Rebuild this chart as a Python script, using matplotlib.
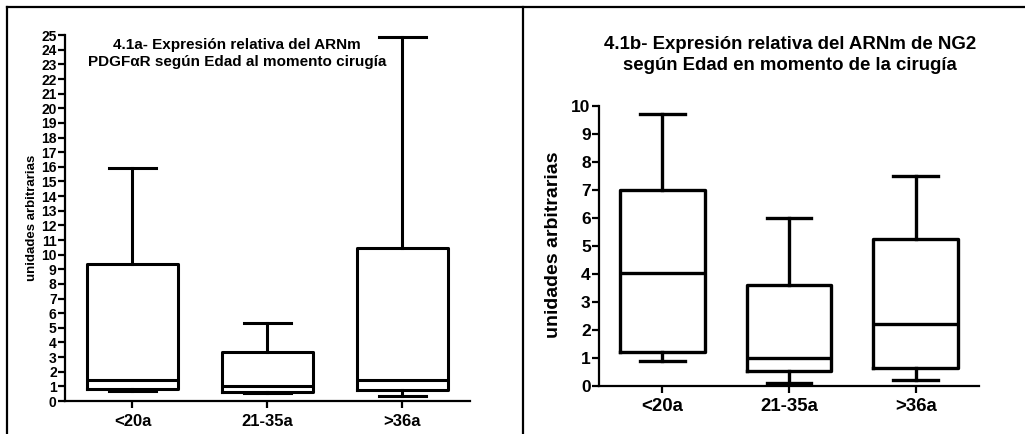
import matplotlib
matplotlib.use("Agg")
import matplotlib.pyplot as plt
from matplotlib.lines import Line2D

plt.rcParams['font.family'] = ['Liberation Sans', 'DejaVu Sans']
plt.rcParams['font.weight'] = 'bold'

# Categories (age groups)
groups = ["<20a", "21-35a", ">36a"]

# 4.1a - PDGFaR: whisker low, Q1, median, Q3, whisker high
pdgf_low = [0.7, 0.55, 0.35]
pdgf_q1 = [0.85, 0.6, 0.75]
pdgf_med = [1.45, 1.0, 1.45]
pdgf_q3 = [9.35, 3.35, 10.45]
pdgf_high = [15.9, 5.3, 24.9]

# 4.1b - NG2
ng2_low = [0.9, 0.1, 0.2]
ng2_q1 = [1.2, 0.55, 0.65]
ng2_med = [4.05, 1.0, 2.2]
ng2_q3 = [7.0, 3.6, 5.25]
ng2_high = [9.7, 6.0, 7.5]


def make_stats(low, q1, med, q3, high):
    stats = []
    for i in range(len(groups)):
        stats.append({"whislo": low[i], "q1": q1[i], "med": med[i],
                      "q3": q3[i], "whishi": high[i], "fliers": [],
                      "label": groups[i]})
    return stats


def draw_box(ax, stats, lw, ytick_fs, xtick_fs):
    props = dict(color="black", linewidth=lw)
    ax.bxp(stats, positions=[1, 2, 3], widths=0.67, capwidths=0.35,
           showfliers=False, boxprops=props, medianprops=props,
           whiskerprops=props, capprops=props)
    ax.set_xlim(0.5, 3.5)
    for s in ["top", "right"]:
        ax.spines[s].set_visible(False)
    for s in ["left", "bottom"]:
        ax.spines[s].set_linewidth(1.6)
    ax.tick_params(axis="both", width=1.6, length=5, direction="out")
    ax.tick_params(axis="x", labelsize=xtick_fs, pad=4)
    ax.tick_params(axis="y", labelsize=ytick_fs, pad=1)
    for lab in ax.get_xticklabels() + ax.get_yticklabels():
        lab.set_fontweight("bold")


fig = plt.figure(figsize=(10.25, 4.34), dpi=100)

# Left panel
ax1 = fig.add_axes([0.0634, 0.076, 0.395, 0.843])
draw_box(ax1, make_stats(pdgf_low, pdgf_q1, pdgf_med, pdgf_q3, pdgf_high), 2.2, 10, 12)
ax1.set_ylim(0, 25)
ax1.set_yticks(range(0, 26))
fig.text(0.231, 0.913, "4.1a- Expresión relativa del ARNm\nPDGFαR según Edad al momento cirugía",
         ha="center", va="top", fontsize=11, fontweight="bold", linespacing=1.3)
fig.text(0.031, 0.498, "unidades arbitrarias", rotation=90, ha="center", va="center",
         fontsize=9.5, fontweight="bold")

# Right panel
ax2 = fig.add_axes([0.5844, 0.1106, 0.3707, 0.645])
draw_box(ax2, make_stats(ng2_low, ng2_q1, ng2_med, ng2_q3, ng2_high), 2.4, 12.5, 13.4)
ax2.set_ylim(0, 10)
ax2.set_yticks(range(0, 11))
fig.text(0.771, 0.917, "4.1b- Expresión relativa del ARNm de NG2\nsegún Edad en momento de la cirugía",
         ha="center", va="top", fontsize=13.4, fontweight="bold", linespacing=1.3)
fig.text(0.540, 0.435, "unidades arbitrarias", rotation=90, ha="center", va="center",
         fontsize=14, fontweight="bold")

# Table-like frame lines
fig.add_artist(Line2D([7 / 1025, 1.0], [1 - 7 / 434] * 2, color="black", lw=1.6,
                      transform=fig.transFigure))
fig.add_artist(Line2D([7 / 1025] * 2, [0, 1 - 7 / 434], color="black", lw=1.6,
                      transform=fig.transFigure))
fig.add_artist(Line2D([523 / 1025] * 2, [0, 1 - 7 / 434], color="black", lw=1.6,
                      transform=fig.transFigure))

fig.savefig("out.png", dpi=100)
